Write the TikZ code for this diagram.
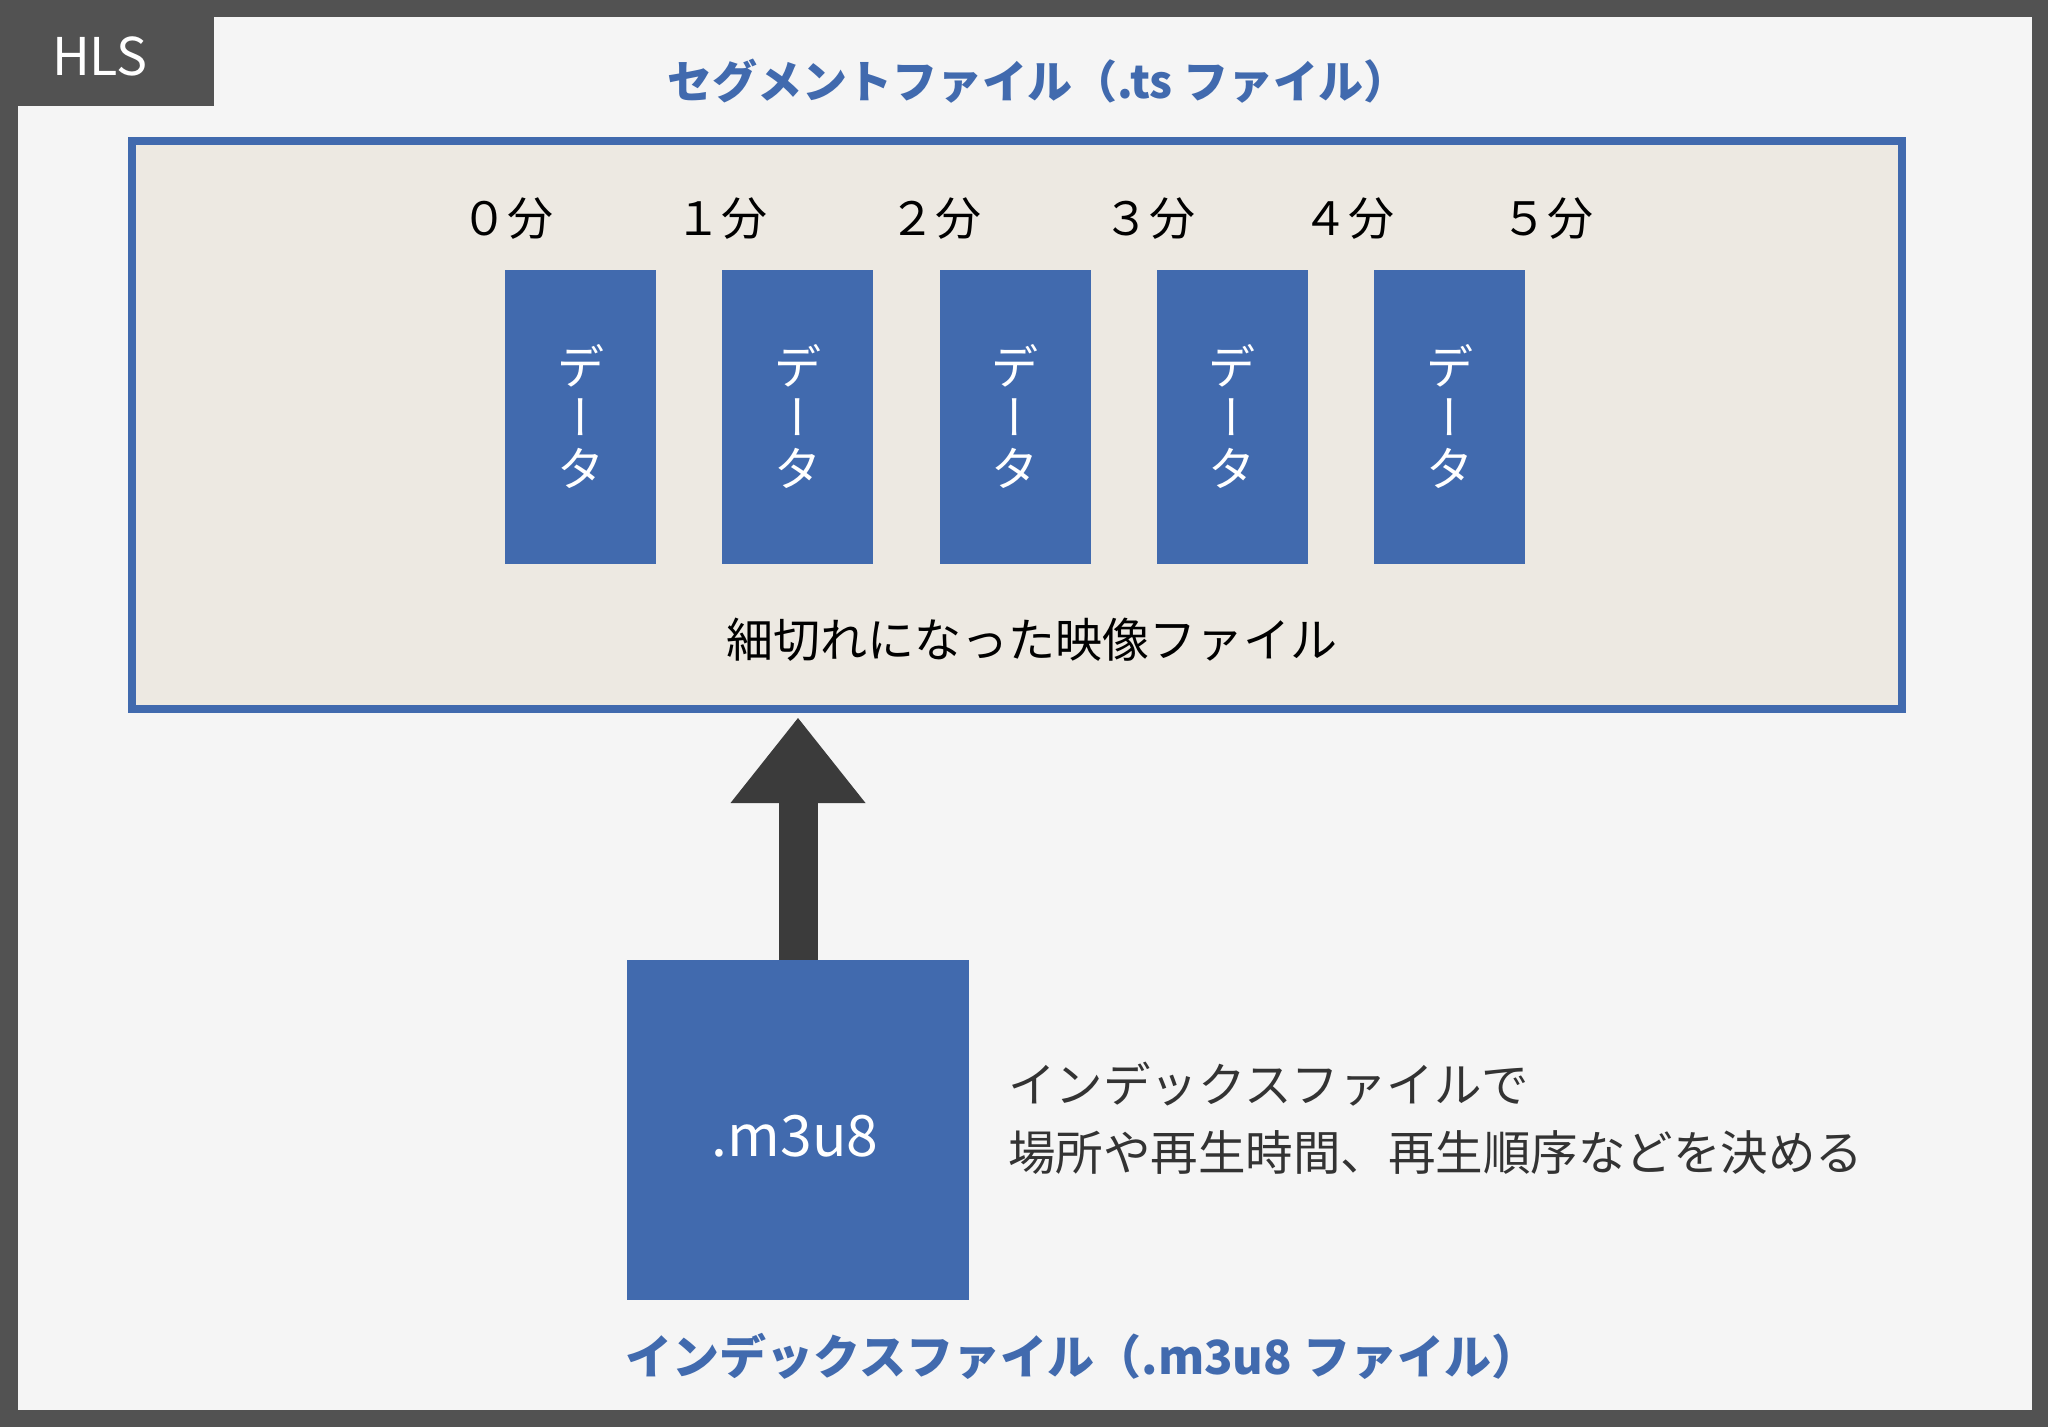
\documentclass[tikz,border=0pt]{standalone}
\usepackage{fontspec}
\setmainfont{Noto Sans CJK JP}
\usetikzlibrary{arrows.meta}
\definecolor{darkframe}{HTML}{525252}
\definecolor{paper}{HTML}{F5F5F5}
\definecolor{beige}{HTML}{EDE9E2}
\definecolor{hlsblue}{HTML}{416AAE}
\definecolor{arrowgray}{HTML}{3B3B3B}
\definecolor{txtgray}{HTML}{333333}
\newcommand{\vchoon}{{\addfontfeature{RawFeature=+vert}ー}}
\begin{document}
\begin{tikzpicture}[x=1pt,y=-1pt,
  datablock/.style={fill=hlsblue, minimum width=151pt, minimum height=294pt, inner sep=0pt,
    text=white, align=center, font=\fontsize{47}{51}\selectfont},
  minlabel/.style={font=\fontsize{46}{50}\selectfont, text=black, inner sep=0pt},
  bluetitle/.style={font=\fontsize{45}{50}\selectfont\bfseries, text=hlsblue, inner sep=0pt},
  ]
\useasboundingbox (0,0) rectangle (2048,1427);
\fill[darkframe] (0,0) rectangle (2048,1427);
\fill[paper] (18,17) rectangle (2032,1410);
\fill[darkframe] (0,0) rectangle (214,106);
\node[text=white, font=\fontsize{52}{60}\selectfont, inner sep=0pt] (hls) at (100,56) {HLS};

\node[bluetitle] (tstitle) at (1038,81) {セグメントファイル（.ts ファイル）};

\node[draw=hlsblue, line width=8pt, fill=beige, minimum width=1770pt, minimum height=568pt, inner sep=0pt] (frame) at (1017,425) {};

\foreach \i/\x in {1/580.5, 2/797.5, 3/1015, 4/1232, 5/1449.5}{
  \node[datablock] (d\i) at (\x,417) {デ\\\vchoon\\タ};
}

\node[minlabel] (m0) at (507,219) {０分};
\node[minlabel] (m1) at (721,219) {１分};
\node[minlabel] (m2) at (935,219) {２分};
\node[minlabel] (m3) at (1149,219) {３分};
\node[minlabel] (m4) at (1348,219) {４分};
\node[minlabel] (m5) at (1547,219) {５分};

\node[font=\fontsize{47}{52}\selectfont, text=black, inner sep=0pt] (slice) at (1032,640) {細切れになった映像ファイル};

\node[fill=hlsblue, minimum width=342pt, minimum height=340pt, inner sep=0pt] (m3u8) at (798,1130) {};
\node[text=white, font=\fontsize{57}{60}\selectfont, inner sep=0pt] (m3u8text) at (795,1136) {.m3u8};

\draw[arrowgray, line width=39pt, -{Triangle[width=135pt,length=85pt,line width=0pt]}, shorten >=5pt]
  (m3u8.north) -- (m3u8.north |- frame.south);

\node[anchor=west, align=left, text=txtgray, font=\fontsize{47.5}{68}\selectfont, inner sep=0pt] (desc) at (1008,1118)
  {インデックスファイルで\\場所や再生時間、再生順序などを決める};

\node[bluetitle, font=\fontsize{47}{52}\selectfont\bfseries] (m3title) at (1082,1356) {インデックスファイル（.m3u8 ファイル）};
\end{tikzpicture}
\end{document}
